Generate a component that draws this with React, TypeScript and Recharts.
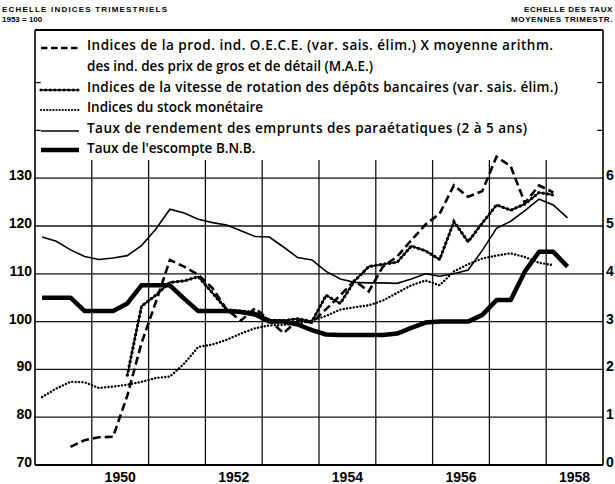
import React from 'react';
import { ComposedChart, Line, XAxis, YAxis, ReferenceLine } from 'recharts';

// Quarterly observations, 1949 T1 .. 1958 T2
const quarters = [
  '1949 T1', '1949 T2', '1949 T3', '1949 T4',
  '1950 T1', '1950 T2', '1950 T3', '1950 T4',
  '1951 T1', '1951 T2', '1951 T3', '1951 T4',
  '1952 T1', '1952 T2', '1952 T3', '1952 T4',
  '1953 T1', '1953 T2', '1953 T3', '1953 T4',
  '1954 T1', '1954 T2', '1954 T3', '1954 T4',
  '1955 T1', '1955 T2', '1955 T3', '1955 T4',
  '1956 T1', '1956 T2', '1956 T3', '1956 T4',
  '1957 T1', '1957 T2', '1957 T3', '1957 T4',
  '1958 T1', '1958 T2',
];

// Indices (1953 = 100) – left scale
const prodInd = [
  null, null, 73.8, 75.2,
  75.8, 75.9, 84.5, 95.5,
  104.0, 112.9, 111.5, 109.8,
  107.0, 102.5, 100.2, 102.8,
  100.3, 97.6, 100.2, 99.8,
  102.6, 105.5, 108.6, 106.3,
  111.5, 113.6, 117.0, 120.3,
  122.6, 128.5, 126.1, 127.3,
  134.5, 132.5, 124.8, 128.5,
  127.0, null,
];
const vitesse = [
  null, null, null, null,
  null, null, 88.8, 103.2,
  105.5, 108.2, 108.5, 109.4,
  106.0, 102.5, 102.2, 101.9,
  100.3, 100.2, 100.6, 100.0,
  105.5, 103.8, 108.5, 111.5,
  112.0, 112.4, 115.8, 114.8,
  113.0, 120.9, 116.7, 120.6,
  124.4, 123.3, 124.6, 127.0,
  126.5, null,
];
const stock = [
  84.2, 86.0, 87.4, 87.3,
  86.1, 86.4, 86.8, 87.4,
  88.2, 88.5, 91.2, 94.7,
  95.2, 96.2, 97.5, 98.6,
  99.2, 99.3, 99.6, 100.2,
  101.2, 102.5, 103.0, 103.4,
  104.4, 106.0, 107.6, 108.6,
  107.6, 110.5, 112.0, 113.2,
  113.8, 114.3, 113.5, 112.3,
  111.8, null,
];

// Rates in % – right scale
const rendement = [
  4.77, 4.68, 4.50, 4.36,
  4.30, 4.33, 4.38, 4.59,
  4.93, 5.35, 5.27, 5.14,
  5.07, 5.02, 4.90, 4.78,
  4.77, 4.56, 4.34, 4.29,
  4.05, 3.89, 3.82, 3.81,
  3.81, 3.80, 3.89, 4.00,
  3.95, 4.00, 4.08, 4.49,
  4.95, 5.10, 5.32, 5.56,
  5.44, 5.17,
];
const escompte = [
  3.50, 3.50, 3.50, 3.22,
  3.22, 3.22, 3.38, 3.76,
  3.76, 3.76, 3.48, 3.22,
  3.22, 3.22, 3.20, 3.15,
  3.00, 3.00, 2.94, 2.82,
  2.73, 2.72, 2.72, 2.72,
  2.72, 2.75, 2.87, 2.98,
  3.00, 3.00, 3.00, 3.14,
  3.45, 3.45, 4.05, 4.46,
  4.46, 4.15,
];

const yearLabels = [1950, 1952, 1954, 1956, 1958];
const gridYears = [1950, 1951, 1952, 1953, 1954, 1955, 1956, 1957, 1958];
const leftTicks = [70, 80, 90, 100, 110, 120, 130];
const rightTicks = [0, 1, 2, 3, 4, 5, 6];
const gridLevels = [80, 90, 100, 110, 120, 130];
const stubLevels = [140, 150];

const legendTexts = [
  'Indices de la prod. ind. O.E.C.E. (var. sais. élim.) X  moyenne arithm.',
  'des ind. des prix de gros et de détail (M.A.E.)',
  'Indices de la vitesse de rotation des dépôts bancaires  (var. sais. élim.)',
  'Indices du stock monétaire',
  'Taux de rendement des emprunts des paraétatiques  (2 à 5 ans)',
  "Taux de l'escompte B.N.B.",
];
const legendWidths: (number | undefined)[] = [466, undefined, 471, undefined, 440, undefined];

const rows = quarters.map((q, i) => {
  const [y, t] = q.split(' T');
  return {
    q,
    t: Number(y) + (Number(t) - 0.5) / 4,
    prod: prodInd[i],
    vit: vitesse[i],
    stock: stock[i],
    rend: rendement[i],
    esc: escompte[i],
  };
});

const FONT = '"Liberation Sans", Arial, sans-serif';
const LFONT = '"Open Sans", "Liberation Sans", sans-serif';

const LeftTick = (p: any) => (
  <text x={p.x - 3} y={p.y + 2} textAnchor="end" fontFamily={FONT} fontSize={14} fontWeight={700} fill="#000">
    {p.payload.value}
  </text>
);
const RightTick = (p: any) => (
  <text x={p.x + 3} y={p.y + 2} textAnchor="start" fontFamily={FONT} fontSize={14} fontWeight={700} fill="#000">
    {p.payload.value}
  </text>
);
const BottomTick = (p: any) => (
  <text x={p.x} y={p.y + 17} textAnchor="middle" fontFamily={FONT} fontSize={14} fontWeight={700} fill="#000">
    {Math.floor(p.payload.value)}
  </text>
);

const GRID = { stroke: '#111', strokeWidth: 1.3 };

const Legend = () => {
  const sx1 = 41;
  const sx2 = 79;
  const tx = 87;
  const ys = [45, 66, 87, 107, 128, 148];
  const txt = (i: number) => {
    const w = legendWidths[i];
    const extra = w ? { textLength: w, lengthAdjust: 'spacing' } : {};
    return (
      <text key={'t' + i} x={tx} y={ys[i] + 5} fontFamily={LFONT} fontSize={13.5} fontWeight={600} fill="#000" {...extra}>
        {legendTexts[i]}
      </text>
    );
  };
  return (
    <svg width={615} height={484} style={{ position: 'absolute', left: 0, top: 0, pointerEvents: 'none' }}>
      <text x={2} y={12} fontFamily={FONT} fontSize={8} fontWeight={700} textLength={165} lengthAdjust="spacing">ECHELLE INDICES TRIMESTRIELS</text>
      <text x={2} y={22} fontFamily={FONT} fontSize={8} fontWeight={700}>1953 = 100</text>
      <text x={613} y={12} fontFamily={FONT} fontSize={8} fontWeight={700} textAnchor="end" letterSpacing={0.6}>ECHELLE DES TAUX</text>
      <text x={613} y={22} fontFamily={FONT} fontSize={8} fontWeight={700} textAnchor="end" letterSpacing={0.6}>MOYENNES TRIMESTR.</text>
      <line x1={sx1} x2={sx2} y1={ys[0] + 3} y2={ys[0] + 3} stroke="#000" strokeWidth={2.6} strokeDasharray="6.5 3.5" />
      <line x1={sx1} x2={sx2} y1={ys[2] + 3} y2={ys[2] + 3} stroke="#000" strokeWidth={1.6} />
      <line x1={sx1} x2={sx2} y1={ys[2] + 3} y2={ys[2] + 3} stroke="#000" strokeWidth={3.2} strokeDasharray="0.1 4.5" strokeLinecap="round" />
      <line x1={sx1} x2={sx2} y1={ys[3] + 3} y2={ys[3] + 3} stroke="#000" strokeWidth={2.2} strokeDasharray="0.1 3" strokeLinecap="round" />
      <line x1={sx1} x2={sx2} y1={ys[4] + 3} y2={ys[4] + 3} stroke="#000" strokeWidth={1.6} />
      <line x1={sx1} x2={sx2} y1={ys[5] + 2} y2={ys[5] + 2} stroke="#000" strokeWidth={4.5} />
      {legendTexts.map((_, i) => txt(i))}
    </svg>
  );
};

export default function App() {
  return (
    <div style={{ position: 'absolute', left: 0, top: 0, width: 615, height: 484, background: '#fff' }}>
      <ComposedChart width={615} height={484} data={rows} margin={{ top: 30, right: 0, bottom: 0, left: 0 }}>
        <XAxis
          dataKey="t"
          type="number"
          domain={[1949, 1959]}
          ticks={yearLabels.map((y) => y + 0.5)}
          height={19}
          tickSize={0}
          tickMargin={0}
          tickLine={false}
          axisLine={{ stroke: '#000', strokeWidth: 2 }}
          tick={<BottomTick />}
          allowDataOverflow
        />
        <YAxis
          yAxisId="left"
          domain={[70, 161]}
          ticks={leftTicks}
          width={35}
          tickSize={0}
          tickMargin={0}
          tickLine={false}
          axisLine={{ stroke: '#000', strokeWidth: 1.6 }}
          tick={<LeftTick />}
          allowDataOverflow
        />
        <YAxis
          yAxisId="right"
          orientation="right"
          domain={[0, 9.1]}
          ticks={rightTicks}
          width={12}
          tickSize={0}
          tickMargin={0}
          tickLine={false}
          axisLine={{ stroke: '#000', strokeWidth: 1.6 }}
          tick={<RightTick />}
          allowDataOverflow
        />
        {gridLevels.map((v) => (
          <ReferenceLine key={'h' + v} yAxisId="left" segment={[{ x: 1949, y: v }, { x: 1959, y: v }]} {...GRID} />
        ))}
        {gridYears.map((yr) => (
          <ReferenceLine key={'v' + yr} yAxisId="left" segment={[{ x: yr, y: 70 }, { x: yr, y: 133.8 }]} {...GRID} />
        ))}
        {stubLevels.map((v) => (
          <ReferenceLine key={'sl' + v} yAxisId="left" segment={[{ x: 1949, y: v }, { x: 1949.1, y: v }]} {...GRID} />
        ))}
        {stubLevels.map((v) => (
          <ReferenceLine key={'sr' + v} yAxisId="left" segment={[{ x: 1958.9, y: v }, { x: 1959, y: v }]} {...GRID} />
        ))}
        <ReferenceLine yAxisId="left" y={161} stroke="#000" strokeWidth={2} />

        <Line yAxisId="left" dataKey="stock" type="linear" stroke="#000" strokeWidth={2.4} strokeDasharray="0.1 3.3" strokeLinecap="round" dot={false} isAnimationActive={false} />
        <Line yAxisId="right" dataKey="rend" type="linear" stroke="#000" strokeWidth={1.6} dot={false} isAnimationActive={false} />
        <Line yAxisId="left" dataKey="vit" type="linear" stroke="#000" strokeWidth={1.7} dot={false} isAnimationActive={false} />
        <Line yAxisId="left" dataKey="vit" type="linear" stroke="#000" strokeWidth={3.2} strokeDasharray="0.1 4.5" strokeLinecap="round" dot={false} isAnimationActive={false} legendType="none" />
        <Line yAxisId="left" dataKey="prod" type="linear" stroke="#000" strokeWidth={2.6} strokeDasharray="8 4" dot={false} isAnimationActive={false} />
        <Line yAxisId="right" dataKey="esc" type="linear" stroke="#000" strokeWidth={4.5} strokeLinejoin="round" dot={false} isAnimationActive={false} />
      </ComposedChart>
      <Legend />
    </div>
  );
}
